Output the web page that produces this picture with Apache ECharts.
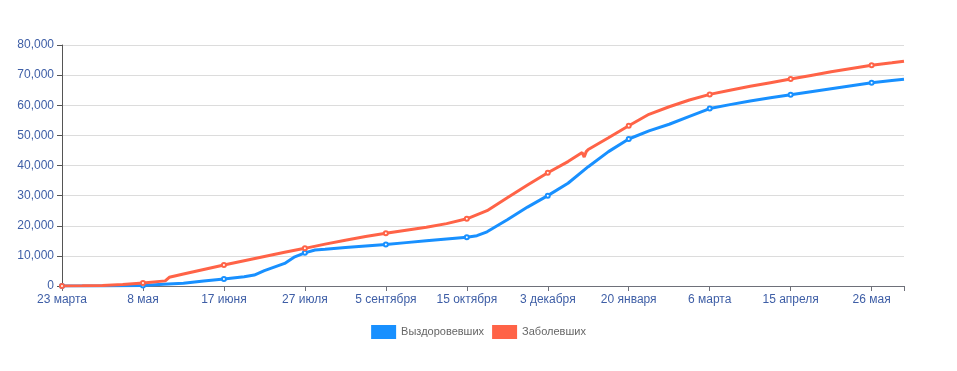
<!DOCTYPE html>
<html>
<head>
<meta charset="utf-8">
<script src="https://cdn.jsdelivr.net/npm/echarts@6/dist/echarts.min.js"></script>
<style>
html,body{margin:0;padding:0;background:#fff;}
#chart{width:957px;height:371px;}
</style>
</head>
<body>
<div id="chart"></div>
<script>
// Tick labels shown every 40 day-indices along the x axis
const TICK_LABELS = ['23 марта','8 мая','17 июня','27 июля','5 сентября','15 октября','3 декабря','20 января','6 марта','15 апреля','26 мая'];
const TICK_STEP = 40;
const X_MAX = 416;
const SERIES_NAMES = ['Выздоровевших','Заболевших'];

const RECOVERED_X = [0,10,20,30,40,50,60,70,80,90,95,100,110,115,120,125,130,140,150,160,170,180,190,200,205,210,220,230,240,250,260,270,280,290,300,310,320,330,340,350,360,370,380,390,400,410,416];
const RECOVERED_Y = [0,0,20,100,200,560,900,1660,2300,3100,3650,5100,7500,9700,11000,11950,12200,12800,13300,13800,14400,15000,15600,16200,16700,18000,22000,26200,30000,34100,39600,44600,48800,51500,53700,56300,58900,60200,61400,62500,63500,64500,65500,66500,67500,68200,68600];

const INFECTED_X = [0,10,20,30,40,51,53,60,70,80,90,100,110,120,130,140,150,160,170,180,190,200,210,220,230,240,250,257,258,259,260,270,280,290,300,310,320,330,340,350,360,370,380,390,400,410,416];
const INFECTED_Y = [0,50,200,500,1000,1700,2900,3960,5480,7000,8400,9800,11200,12500,13900,15200,16400,17500,18500,19500,20700,22300,25000,29300,33500,37600,41300,44300,42800,44600,45300,49200,53200,57000,59500,61750,63600,65000,66300,67500,68700,69900,71100,72200,73300,74100,74600];

function pairs(xs, ys){ return xs.map((x,i)=>[x, ys[i]]); }

const FONT = 'Liberation Sans';
const chart = echarts.init(document.getElementById('chart'), null, {renderer:'canvas'});
const symSize = v => (v[0] % TICK_STEP === 0 ? 4 : 0);

chart.setOption({
  animation: false,
  color: ['#1890ff', '#ff6347'],
  textStyle: {fontFamily: FONT},
  grid: {left: 62, right: 53, top: 45, bottom: 85},
  legend: {
    data: SERIES_NAMES,
    top: 320, left: 'center',
    icon: 'rect', itemWidth: 25, itemHeight: 14, itemGap: 8,
    textStyle: {color: '#666', fontSize: 11, fontFamily: FONT}
  },
  xAxis: {
    type: 'value', min: 0, max: X_MAX, interval: TICK_STEP,
    axisLine: {show: true, lineStyle: {color: '#6e7079'}},
    axisTick: {show: true, lineStyle: {color: '#6e7079'}},
    splitLine: {show: false},
    axisLabel: {
      color: '#3e5ea6', fontSize: 12, fontFamily: FONT, margin: 8,
      formatter: v => (v % TICK_STEP === 0 ? (TICK_LABELS[v / TICK_STEP] || '') : '')
    }
  },
  yAxis: {
    type: 'value', min: 0, max: 80000, interval: 10000,
    axisLine: {show: true, lineStyle: {color: '#555'}},
    axisTick: {show: true, lineStyle: {color: '#555'}},
    splitLine: {show: true, lineStyle: {color: '#dcdcdc'}},
    axisLabel: {
      color: '#3e5ea6', fontSize: 12, fontFamily: FONT, margin: 8,
      formatter: v => v.toLocaleString('en-US')
    }
  },
  series: [
    {
      name: SERIES_NAMES[0], type: 'line',
      data: pairs(RECOVERED_X, RECOVERED_Y),
      symbol: 'emptyCircle', symbolSize: symSize, showAllSymbol: true,
      lineStyle: {width: 3},
      itemStyle: {borderWidth: 1}
    },
    {
      name: SERIES_NAMES[1], type: 'line',
      data: pairs(INFECTED_X, INFECTED_Y),
      symbol: 'emptyCircle', symbolSize: symSize, showAllSymbol: true,
      lineStyle: {width: 3},
      itemStyle: {borderWidth: 1}
    }
  ]
});
</script>
</body>
</html>
